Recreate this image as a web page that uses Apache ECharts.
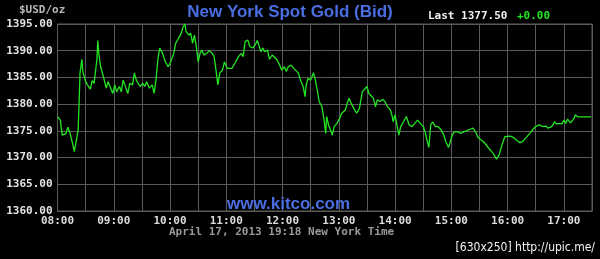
<!DOCTYPE html>
<html>
<head>
<meta charset="utf-8">
<script src="https://cdn.jsdelivr.net/npm/echarts@6/dist/echarts.min.js"></script>
<style>
html,body{margin:0;padding:0;background:#000;}
#chart{width:600px;height:259px;}
</style>
</head>
<body>
<div id="chart"></div>
<script>
// Minutes after 08:00 New York time
const minutesAfter8 = [
  0,3,5,7,9,11,13,16,18,20,
  22,23,24,26,27,30,32,35,37,39,
  42,43,44,46,49,52,54,56,59,61,
  63,66,68,70,73,75,77,80,82,84,
  86,88,91,93,95,98,101,103,105,107,
  109,112,115,118,120,124,126,129,132,134,
  136,137,140,142,144,146,148,150,152,154,
  156,159,162,165,167,169,171,173,176,178,
  181,183,186,189,193,196,198,200,203,205,
  208,211,213,215,217,219,221,224,226,229,
  231,234,237,239,242,244,246,249,252,254,
  257,259,262,264,265,267,270,273,275,277,
  279,282,284,286,287,289,291,293,295,298,
  301,303,307,309,311,313,316,319,322,325,
  327,330,332,334,337,339,341,344,347,349,
  352,355,357,358,360,362,364,366,369,372,
  375,378,381,384,387,390,392,394,396,398,
  400,403,406,409,412,414,417,419,421,423,
  425,427,430,433,436,440,443,446,448,451,
  454,457,460,463,465,468,471,474,477,479,
  483,486,490,493,496,499,502,505,507,510,
  513,515,518,521,523,525,527,530,532,535,
  538,540,542,544,547,549,551,552,555,569
];
// Bid price, USD/oz
const bidPrices = [
  1377.65,1377.0,1374.2,1373.9,1374.5,1375.7,1374.8,1372.7,1371.1,1370.9,
  1375.2,1380.2,1385.8,1388.4,1386.1,1384.2,1383.6,1382.8,1384.4,1383.9,
  1388.3,1391.9,1389.5,1387.0,1385.1,1383.0,1384.2,1383.3,1382.0,1383.6,
  1382.3,1383.3,1382.3,1384.5,1383.0,1382.0,1383.9,1383.6,1385.8,1384.5,
  1384.8,1383.3,1383.9,1383.3,1384.2,1383.0,1383.6,1382.0,1384.5,1388.3,
  1390.5,1389.5,1387.9,1387.0,1387.6,1389.5,1391.4,1392.3,1393.3,1394.5,
  1395.0,1393.6,1392.9,1393.3,1391.4,1392.9,1390.8,1387.9,1389.5,1390.1,
  1389.2,1389.5,1390.0,1389.5,1388.9,1386.4,1383.6,1385.8,1386.4,1387.9,
  1386.7,1386.4,1386.7,1387.6,1388.9,1389.5,1388.9,1391.7,1392.0,1390.8,
  1390.5,1391.1,1391.9,1390.9,1389.8,1390.5,1389.8,1390.1,1388.4,1389.2,
  1388.9,1388.3,1387.3,1386.4,1387.0,1386.1,1387.0,1387.3,1386.7,1386.4,
  1385.8,1384.5,1383.3,1381.4,1383.3,1384.8,1384.5,1385.9,1384.5,1382.6,
  1380.5,1379.5,1377.4,1374.5,1377.7,1376.1,1375.2,1374.2,1375.8,1376.4,
  1377.4,1378.3,1378.9,1380.2,1381.1,1380.2,1379.2,1378.3,1379.2,1382.3,
  1382.6,1383.3,1382.0,1382.0,1381.1,1379.5,1380.8,1380.5,1380.9,1380.5,
  1379.5,1378.9,1377.7,1376.7,1378.0,1376.1,1374.2,1375.8,1376.7,1377.7,
  1376.1,1375.8,1376.4,1377.0,1376.4,1375.8,1374.8,1373.3,1371.9,1376.1,
  1376.7,1375.8,1375.8,1375.2,1374.2,1373.0,1371.9,1373.0,1374.2,1374.8,
  1374.5,1374.8,1374.5,1374.8,1375.0,1375.3,1375.5,1374.8,1373.9,1373.4,
  1373.0,1372.4,1371.7,1371.1,1370.7,1369.7,1370.5,1372.4,1373.9,1374.2,
  1374.0,1373.8,1373.2,1372.8,1373.0,1373.6,1374.2,1374.8,1375.3,1375.8,
  1376.1,1376.3,1375.8,1375.9,1375.5,1375.2,1375.8,1376.7,1376.3,1376.4,
  1376.3,1377.0,1376.4,1377.2,1376.5,1376.9,1377.4,1378.0,1377.6,1377.6
];
const chartTitle = 'New York Spot Gold (Bid)';
const unitLabel = '$USD/oz';
const lastLabel = 'Last 1377.50';
const changeLabel = '+0.00';
const watermark = 'www.kitco.com';
const timestampLabel = 'April 17, 2013 19:18 New York Time';
const hostLabel = '[630x250] http://upic.me/';

const seriesData = minutesAfter8.map((m, i) => [m, bidPrices[i]]);
const pad = n => (n < 10 ? '0' : '') + n;

const chart = echarts.init(document.getElementById('chart'), null, {renderer: 'canvas'});
const mono = '"DejaVu Sans Mono", monospace';
const blue = '#4a6ee2';
chart.setOption({
  backgroundColor: '#000',
  animation: false,
  grid: {
    left: 57.5, right: 8, top: 24, bottom: 48,
    containLabel: false,
    outerBoundsMode: 'none',
    show: true, borderColor: '#5a5a5a', borderWidth: 1, backgroundColor: 'transparent'
  },
  xAxis: {
    type: 'value', min: 0, max: 570, interval: 30,
    axisLine: {show: true, lineStyle: {color: '#5a5a5a'}},
    axisTick: {show: false},
    splitLine: {show: true, lineStyle: {color: '#5a5a5a', width: 1}},
    axisLabel: {
      color: '#dcdcdc', fontFamily: mono, fontWeight: 'bold', fontSize: 11, margin: 5,
      formatter: v => (v % 60 === 0 ? pad(8 + v / 60) + ':00' : '')
    }
  },
  yAxis: {
    type: 'value', min: 1360, max: 1395, interval: 5,
    axisLine: {show: true, lineStyle: {color: '#5a5a5a'}},
    axisTick: {show: false},
    splitLine: {show: true, lineStyle: {color: '#5a5a5a', width: 1}},
    axisLabel: {
      color: '#e4e4e4', fontFamily: mono, fontWeight: 'bold', fontSize: 11, margin: 5,
      formatter: v => v.toFixed(2)
    }
  },
  series: [{
    type: 'line', data: seriesData, showSymbol: false, symbol: 'none',
    lineStyle: {color: '#22e622', width: 1.3}, z: 3
  }],
  graphic: [
    {type: 'text', left: 19, top: 5, style: {text: unitLabel, fill: '#b8b8b8', font: 'bold 11px ' + mono}},
    {type: 'text', x: 290, y: 12, style: {text: chartTitle, fill: blue, font: 'bold 17px "Liberation Sans", Arial, sans-serif', textAlign: 'center', textVerticalAlign: 'middle'}},
    {type: 'text', x: 428, y: 16, style: {text: lastLabel, fill: '#f0f0f0', font: 'bold 11px ' + mono, textVerticalAlign: 'middle'}},
    {type: 'text', x: 517, y: 16, style: {text: changeLabel, fill: '#22e622', font: 'bold 11px ' + mono, textVerticalAlign: 'middle'}},
    {type: 'text', x: 227, y: 204, z: 1, style: {text: watermark, fill: blue, font: 'bold 17px "Liberation Sans", Arial, sans-serif', textVerticalAlign: 'middle'}},
    {type: 'text', x: 169, y: 232, style: {text: timestampLabel, fill: '#9a9a9a', font: 'bold 11px ' + mono, textVerticalAlign: 'middle'}},
    {type: 'text', x: 595, y: 248, style: {text: hostLabel, fill: '#f2f2f2', font: '12px "DejaVu Sans Condensed", "DejaVu Sans", sans-serif', textAlign: 'right', textVerticalAlign: 'middle'}}
  ]
});
</script>
</body>
</html>
